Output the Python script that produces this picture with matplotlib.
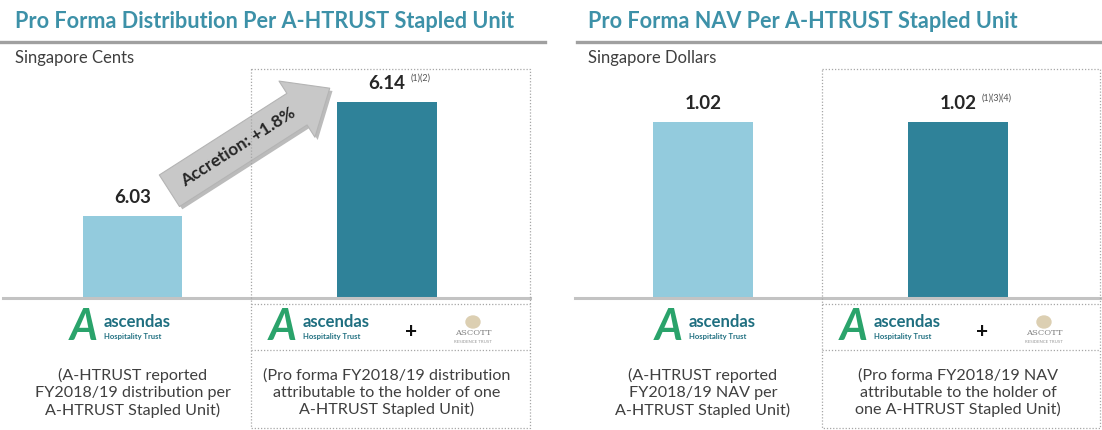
import matplotlib
matplotlib.use('Agg')
import matplotlib.pyplot as plt
import matplotlib.transforms as mtransforms
import matplotlib.patheffects as pe
from matplotlib.lines import Line2D
from matplotlib.patches import FancyArrowPatch, Ellipse
import numpy as np

# data
titles = ['Pro Forma Distribution Per A-HTRUST Stapled Unit',
          'Pro Forma NAV Per A-HTRUST Stapled Unit']
units = ['Singapore Cents', 'Singapore Dollars']
dist_values = [6.03, 6.14]
dist_notes = ['', '(1)(2)']
nav_values = [1.02, 1.02]
nav_notes = ['', '(1)(3)(4)']
dist_captions = ['(A-HTRUST reported\nFY2018/19 distribution per\nA-HTRUST Stapled Unit)',
                 '(Pro forma FY2018/19 distribution\nattributable to the holder of one\nA-HTRUST Stapled Unit)']
nav_captions = ['(A-HTRUST reported\nFY2018/19 NAV per\nA-HTRUST Stapled Unit)',
                '(Pro forma FY2018/19 NAV\nattributable to the holder of\none A-HTRUST Stapled Unit)']
accretion_label = 'Accretion: +1.8%'

# style
W, H = 1102, 430
light = '#93cbdd'
dark = '#2f8299'
teal = '#3d91a8'
txt = '#3f3f3f'
dot_col = '#a6a6a6'

plt.rcParams['font.family'] = ['Lato', 'DejaVu Sans']

fig = plt.figure(figsize=(W / 100, H / 100), dpi=100)


def fx(x):
    return x / W


def fy(y):
    return 1 - y / H


def line(xs, ys, **kw):
    fig.add_artist(Line2D([fx(x) for x in xs], [fy(y) for y in ys],
                          transform=fig.transFigure, **kw))


def logo_ascendas(xa, y):
    # stylised green "A" and the trust name
    fig.text(fx(xa), fy(y + 3), 'A', fontsize=31, fontstyle='italic', fontweight='bold',
             color='#2aa36b', ha='center', va='center')
    fig.text(fx(xa + 20), fy(y - 2), 'ascendas', fontsize=12, fontweight='bold',
             color='#1f6f80', ha='left', va='center')
    fig.text(fx(xa + 20), fy(y + 12), 'Hospitality Trust', fontsize=5.5, fontweight='bold',
             color='#1f6f80', ha='left', va='center')


def logo_ascott(xc, y):
    fig.add_artist(Ellipse((fx(xc), fy(y - 10)), 14 / W, 12 / H, transform=fig.transFigure,
                           color='#dccfb2'))
    fig.text(fx(xc), fy(y + 1), 'ASCOTT', fontsize=6, family='DejaVu Serif',
             color='#7f7f7f', ha='center', va='center')
    fig.text(fx(xc), fy(y + 10), 'RESIDENCE TRUST', fontsize=3.2,
             color='#9a9a9a', ha='center', va='center')


panels = [
    dict(values=dist_values, notes=dist_notes, captions=dist_captions,
         ax_px=(3, 530), xlim=(-0.509, 1.562), ylim=(5.951, 6.173), width=0.39,
         line_px=(0, 545), title_x=15, box=(251, 530), logo_dx=-49),
    dict(values=nav_values, notes=nav_notes, captions=nav_captions,
         ax_px=(575, 1100), xlim=(-0.502, 1.557), ylim=(0, 1.333), width=0.392,
         line_px=(577, 1102), title_x=588, box=(822, 1100), logo_dx=-34),
]

axes = []
for k, p in enumerate(panels):
    x0, x1 = p['ax_px']
    ax = fig.add_axes([fx(x0), fy(298), (x1 - x0) / W, 230 / H])
    ax.patch.set_alpha(0)
    xs = np.arange(len(p['values']))
    ax.bar(xs, p['values'], width=p['width'], color=[light, dark], zorder=2)
    ax.set_xlim(*p['xlim'])
    ax.set_ylim(*p['ylim'])
    ax.set_xticks([])
    ax.set_yticks([])
    for s in ['top', 'left', 'right']:
        ax.spines[s].set_visible(False)
    ax.spines['bottom'].set_color('#c3c3c3')
    ax.spines['bottom'].set_linewidth(2.2)

    for i, (v, note) in enumerate(zip(p['values'], p['notes'])):
        ax.annotate(f'{v:.2f}', xy=(i, v), xytext=(0, 13.5), textcoords='offset points',
                    ha='center', va='center', fontsize=13.5, fontweight='bold',
                    color='#262626', annotation_clip=False)
        if note:
            ax.annotate(note, xy=(i, v), xytext=(17, 17), textcoords='offset points',
                        ha='left', va='center', fontsize=6.5, color='#555555',
                        annotation_clip=False)

    # headers
    fig.text(fx(p['title_x']), fy(22), titles[k], fontsize=15.6, fontweight='bold',
             color=teal, ha='left', va='center')
    line(p['line_px'], (42, 42), color='#a0a0a0', lw=2.4)
    fig.text(fx(p['title_x']), fy(58), units[k], fontsize=12, color=txt,
             ha='left', va='center')

    # dotted frame round the pro forma column
    bx0, bx1 = p['box']
    dkw = dict(color=dot_col, lw=0.9, ls=(0, (1, 1.5)))
    line((bx0, bx1, bx1, bx0, bx0), (69, 69, 428, 428, 69), **dkw)
    line((bx0, bx1), (304, 304), **dkw)
    line((bx0, bx1), (350, 350), **dkw)

    # captions and logos under each bar
    blend = mtransforms.blended_transform_factory(ax.transData, fig.transFigure)
    for i, cap in enumerate(p['captions']):
        fig.text(i, fy(393), cap, transform=blend, ha='center', va='center',
                 fontsize=11.6, color=txt, linespacing=1.24)
    c0 = ax.transData.transform((0, p['ylim'][0]))[0]
    c1 = ax.transData.transform((1, p['ylim'][0]))[0]
    logo_ascendas(c0 + p['logo_dx'], 324)
    logo_ascendas(c1 - 104, 324)
    fig.text(fx(c1 + 24), fy(332), '+', fontsize=15, fontweight='bold', color='#111111',
             ha='center', va='center')
    logo_ascott(c1 + 86, 332)
    axes.append(ax)

# accretion arrow between the distribution bars
ax = axes[0]
v0, v1 = dist_values
tail = (0.145, v0 + 0.0245)
tip = (0.775, v1 + 0.0135)
arrow = FancyArrowPatch(tail, tip, transform=ax.transData,
                        arrowstyle='simple,head_length=28,head_width=48,tail_width=27',
                        mutation_scale=1, shrinkA=0, shrinkB=0, clip_on=False,
                        facecolor='#c8c8c8', edgecolor='#b4b4b4', lw=0.8, zorder=5,
                        path_effects=[pe.SimplePatchShadow(offset=(2, -2), alpha=0.35),
                                      pe.Normal()])
ax.add_patch(arrow)
p0 = ax.transData.transform(tail)
p1 = ax.transData.transform(tip)
ang = np.degrees(np.arctan2(p1[1] - p0[1], p1[0] - p0[0]))
mid = ax.transData.inverted().transform(p0 + (p1 - p0) * 0.43)
ax.text(mid[0], mid[1], accretion_label, rotation=ang, rotation_mode='anchor',
        ha='center', va='center', fontsize=12.5, fontweight='bold', color='#262626',
        zorder=6, clip_on=False)

fig.savefig('out.png', dpi=100)
